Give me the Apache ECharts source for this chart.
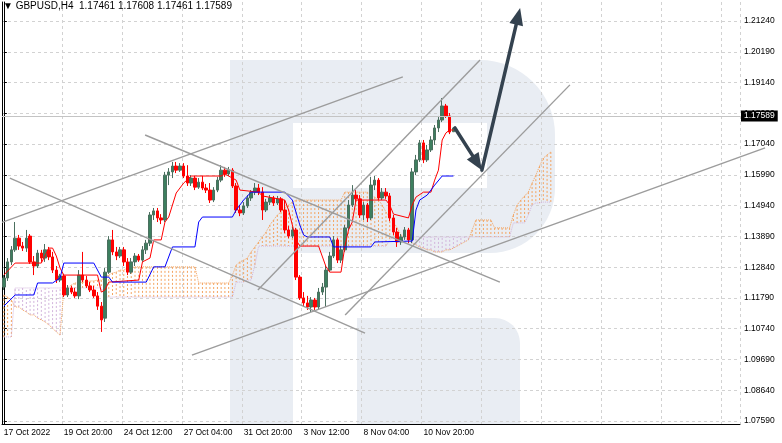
<!DOCTYPE html>
<html>
<head>
<meta charset="utf-8">
<title>GBPUSD,H4</title>
<script src="https://cdn.jsdelivr.net/npm/echarts@6/dist/echarts.min.js"></script>
<style>
  html, body { margin: 0; padding: 0; background: #fff; }
  #main { width: 782px; height: 443px; }
</style>
</head>
<body>
<div id="main"></div>
<script>
// candles: [open, close, low, high], one per H4 bar from 17 Oct 2022
var candles = [
  [1.1216,1.1247,1.1206,1.1257],[1.1247,1.1302,1.1237,1.1315],[1.1302,1.1343,1.1291,1.1356],[1.1343,1.1383,1.1336,1.1438],
  [1.1383,1.1356,1.1343,1.1394],[1.1356,1.1349,1.1339,1.1370],[1.1349,1.1383,1.1336,1.1411],[1.1390,1.1302,1.1295,1.1397],
  [1.1302,1.1288,1.1257,1.1322],[1.1288,1.1332,1.1281,1.1343],[1.1332,1.1315,1.1302,1.1343],[1.1315,1.1343,1.1302,1.1363],
  [1.1343,1.1319,1.1308,1.1353],[1.1319,1.1274,1.1264,1.1336],[1.1274,1.1240,1.1230,1.1288],[1.1240,1.1254,1.1233,1.1261],
  [1.1254,1.1189,1.1182,1.1261],[1.1189,1.1213,1.1182,1.1223],[1.1213,1.1199,1.1192,1.1220],[1.1199,1.1186,1.1179,1.1213],
  [1.1186,1.1257,1.1175,1.1274],[1.1257,1.1240,1.1233,1.1336],[1.1240,1.1220,1.1213,1.1254],[1.1220,1.1206,1.1199,1.1233],
  [1.1206,1.1186,1.1179,1.1220],[1.1186,1.1151,1.1138,1.1199],[1.1151,1.1104,1.1063,1.1165],[1.1110,1.1267,1.1097,1.1281],
  [1.1267,1.1377,1.1261,1.1390],[1.1377,1.1336,1.1325,1.1411],[1.1336,1.1322,1.1308,1.1353],[1.1322,1.1343,1.1315,1.1353],
  [1.1343,1.1302,1.1288,1.1353],[1.1302,1.1267,1.1257,1.1315],[1.1267,1.1302,1.1261,1.1315],[1.1302,1.1322,1.1288,1.1332],
  [1.1322,1.1308,1.1302,1.1329],[1.1308,1.1343,1.1302,1.1356],[1.1343,1.1366,1.1329,1.1377],[1.1366,1.1462,1.1356,1.1472],
  [1.1462,1.1476,1.1445,1.1486],[1.1476,1.1452,1.1438,1.1486],[1.1452,1.1445,1.1431,1.1465],[1.1445,1.1598,1.1438,1.1609],
  [1.1598,1.1609,1.1564,1.1622],[1.1609,1.1629,1.1588,1.1643],[1.1629,1.1615,1.1605,1.1643],[1.1615,1.1629,1.1609,1.1639],
  [1.1629,1.1595,1.1588,1.1639],[1.1595,1.1571,1.1561,1.1632],[1.1571,1.1588,1.1561,1.1598],[1.1588,1.1557,1.1547,1.1595],
  [1.1557,1.1574,1.1551,1.1588],[1.1574,1.1554,1.1547,1.1595],[1.1554,1.1547,1.1537,1.1568],[1.1547,1.1513,1.1503,1.1571],
  [1.1513,1.1547,1.1506,1.1557],[1.1547,1.1581,1.1540,1.1592],[1.1581,1.1615,1.1574,1.1632],[1.1615,1.1602,1.1592,1.1626],
  [1.1602,1.1615,1.1595,1.1626],[1.1615,1.1561,1.1554,1.1622],[1.1561,1.1479,1.1469,1.1571],[1.1479,1.1469,1.1458,1.1496],
  [1.1469,1.1493,1.1462,1.1506],[1.1493,1.1520,1.1486,1.1530],[1.1520,1.1540,1.1510,1.1547],[1.1540,1.1554,1.1530,1.1571],
  [1.1554,1.1540,1.1530,1.1568],[1.1540,1.1479,1.1445,1.1557],[1.1479,1.1506,1.1472,1.1517],[1.1506,1.1520,1.1496,1.1530],
  [1.1520,1.1503,1.1493,1.1527],[1.1503,1.1517,1.1496,1.1527],[1.1517,1.1479,1.1472,1.1523],[1.1479,1.1411,1.1400,1.1513],
  [1.1411,1.1390,1.1383,1.1424],[1.1390,1.1411,1.1383,1.1421],[1.1411,1.1250,1.1240,1.1418],[1.1250,1.1179,1.1172,1.1257],
  [1.1179,1.1162,1.1148,1.1199],[1.1162,1.1148,1.1138,1.1186],[1.1148,1.1172,1.1131,1.1182],[1.1172,1.1148,1.1138,1.1179],
  [1.1148,1.1199,1.1141,1.1213],[1.1199,1.1216,1.1189,1.1230],[1.1216,1.1274,1.1148,1.1288],[1.1274,1.1322,1.1267,1.1336],
  [1.1322,1.1377,1.1315,1.1390],[1.1377,1.1308,1.1298,1.1383],[1.1308,1.1343,1.1298,1.1356],[1.1343,1.1418,1.1336,1.1428],
  [1.1418,1.1496,1.1411,1.1513],[1.1496,1.1530,1.1489,1.1564],[1.1530,1.1517,1.1506,1.1547],[1.1517,1.1462,1.1452,1.1530],
  [1.1462,1.1496,1.1445,1.1506],[1.1496,1.1452,1.1438,1.1503],[1.1452,1.1564,1.1445,1.1592],[1.1564,1.1581,1.1547,1.1595],
  [1.1581,1.1520,1.1513,1.1588],[1.1520,1.1540,1.1513,1.1554],[1.1540,1.1527,1.1517,1.1554],[1.1527,1.1452,1.1441,1.1537],
  [1.1452,1.1404,1.1394,1.1462],[1.1404,1.1370,1.1353,1.1418],[1.1370,1.1387,1.1360,1.1397],[1.1387,1.1411,1.1377,1.1421],
  [1.1411,1.1377,1.1366,1.1418],[1.1377,1.1609,1.1366,1.1622],[1.1609,1.1650,1.1598,1.1667],[1.1650,1.1708,1.1643,1.1718],
  [1.1708,1.1650,1.1639,1.1718],[1.1650,1.1684,1.1643,1.1701],[1.1684,1.1718,1.1677,1.1731],[1.1718,1.1759,1.1701,1.1769],
  [1.1759,1.1786,1.1745,1.1800],[1.1786,1.1834,1.1779,1.1861],[1.1834,1.1800,1.1793,1.1841],[1.1800,1.1745,1.1738,1.1810],
  [1.17461,1.17589,1.17461,1.17608]
];

// Tenkan-sen (red) and Kijun-sen (blue): [bar, price] at each corner of the line
var tenkan = [
  [0,1.1257],[3,1.1298],[10,1.1298],[12,1.1349],[13,1.1349],[14,1.1322],[15,1.1281],[16,1.1257],[25,1.1257],
  [26,1.1199],[27,1.1206],[28,1.1233],[36,1.1240],[37,1.1302],[39,1.1315],[40,1.1377],[42,1.1377],[43,1.1438],
  [44,1.1455],[46,1.1537],[48,1.1571],[50,1.1595],[58,1.1595],[59,1.1602],[62,1.1581],[63,1.1547],[68,1.1540],
  [69,1.1527],[75,1.1513],[76,1.1479],[78,1.1377],[79,1.1356],[84,1.1356],[86,1.1285],[87,1.1267],[90,1.1267],
  [91,1.1353],[92,1.1411],[93,1.1438],[94,1.1513],[102,1.1513],[103,1.1496],[104,1.1465],[108,1.1452],[109,1.1496],
  [110,1.1523],[112,1.1540],[114,1.1540],[115,1.1581],[116,1.1615],[117,1.1718],[118,1.1742],[119,1.1752],[120,1.1752]
];
var kijun = [
  [0,1.1151],[3,1.1189],[8,1.1189],[9,1.1230],[13,1.1230],[15,1.1247],[16,1.1298],[24,1.1298],[26,1.1250],
  [28,1.1250],[29,1.1233],[38,1.1233],[40,1.1285],[43,1.1285],[45,1.1353],[51,1.1353],[52,1.1438],[53,1.1455],
  [61,1.1455],[62,1.1479],[64,1.1513],[66,1.1540],[75,1.1540],[77,1.1513],[79,1.1428],[80,1.1394],[81,1.1387],
  [87,1.1387],[88,1.1353],[98,1.1353],[99,1.1370],[109,1.1373],[110,1.1479],[111,1.1513],[113,1.1530],
  [115,1.1564],[117,1.1595],[120,1.1595]
];

// Senkou Span A / B per bar (already shifted 26 bars ahead)
var spanA = [
  1.1189,1.1182,1.1172,1.1148,1.1148,1.1138,1.1131,1.1121,1.1121,1.1110,
  1.1104,1.1097,1.1087,1.1076,1.1063,1.1052,1.1206,1.1213,1.1223,1.1230,
  1.1230,1.1233,1.1233,1.1237,1.1237,1.1240,1.1240,1.1250,1.1257,1.1264,
  1.1267,1.1274,1.1274,1.1281,1.1281,1.1285,1.1285,1.1285,1.1285,1.1285,
  1.1285,1.1285,1.1285,1.1285,1.1285,1.1285,1.1285,1.1285,1.1285,1.1285,
  1.1285,1.1285,1.1230,1.1230,1.1230,1.1230,1.1230,1.1230,1.1230,1.1230,
  1.1230,1.1257,1.1291,1.1302,1.1308,1.1315,1.1336,1.1353,1.1370,1.1387,
  1.1404,1.1428,1.1445,1.1462,1.1472,1.1486,1.1496,1.1506,1.1513,1.1513,
  1.1513,1.1513,1.1513,1.1513,1.1513,1.1513,1.1513,1.1513,1.1513,1.1513,
  1.1513,1.1540,1.1540,1.1540,1.1540,1.1540,1.1540,1.1540,1.1530,1.1523,
  1.1513,1.1496,1.1472,1.1455,1.1438,1.1418,1.1394,1.1383,1.1377,1.1366,
  1.1360,1.1353,1.1349,1.1343,1.1343,1.1336,1.1336,1.1336,1.1343,1.1343,
  1.1349,1.1356,1.1363,1.1370,1.1377,1.1411,1.1445,1.1445,1.1445,1.1445,
  1.1445,1.1418,1.1418,1.1418,1.1418,1.1418,1.1462,1.1496,1.1513,1.1527,
  1.1540,1.1571,1.1598,1.1629,1.1656,1.1667,1.1677
];
var spanB = [
  1.1046,1.1046,1.1046,1.1213,1.1213,1.1213,1.1213,1.1213,1.1213,1.1213,
  1.1213,1.1213,1.1213,1.1213,1.1213,1.1213,1.1213,1.1213,1.1213,1.1213,
  1.1213,1.1213,1.1213,1.1213,1.1213,1.1213,1.1213,1.1182,1.1182,1.1182,
  1.1182,1.1182,1.1182,1.1182,1.1182,1.1182,1.1182,1.1182,1.1182,1.1182,
  1.1182,1.1182,1.1182,1.1182,1.1182,1.1182,1.1182,1.1182,1.1182,1.1182,
  1.1182,1.1182,1.1182,1.1182,1.1182,1.1182,1.1182,1.1182,1.1182,1.1182,
  1.1182,1.1182,1.1233,1.1233,1.1233,1.1240,1.1240,1.1291,1.1356,1.1356,
  1.1356,1.1356,1.1356,1.1356,1.1356,1.1356,1.1356,1.1356,1.1356,1.1356,
  1.1356,1.1356,1.1356,1.1356,1.1356,1.1356,1.1356,1.1356,1.1356,1.1356,
  1.1356,1.1356,1.1356,1.1356,1.1356,1.1356,1.1356,1.1356,1.1356,1.1356,
  1.1356,1.1356,1.1356,1.1377,1.1387,1.1387,1.1387,1.1387,1.1387,1.1387,
  1.1387,1.1387,1.1387,1.1387,1.1387,1.1387,1.1387,1.1387,1.1387,1.1387,
  1.1387,1.1387,1.1387,1.1387,1.1387,1.1387,1.1387,1.1387,1.1387,1.1387,
  1.1387,1.1387,1.1387,1.1387,1.1387,1.1387,1.1435,1.1435,1.1435,1.1435,
  1.1462,1.1496,1.1503,1.1503,1.1506,1.1506,1.1506
];

var xTickLabels = ['17 Oct 2022', '19 Oct 20:00', '24 Oct 12:00', '27 Oct 04:00',
                   '31 Oct 20:00', '3 Nov 12:00', '8 Nov 04:00', '10 Nov 20:00'];
var yTicks = [1.07590, 1.08640, 1.09690, 1.10740, 1.11790, 1.12840, 1.13890,
              1.14940, 1.15990, 1.17040, 1.18090, 1.19140, 1.20190, 1.21240];
var lastPrice = 1.17589;

// drawn trend lines and forecast arrows: [bar1, price1, bar2, price2, isArrow]
var drawings = [
  [-0.5, 1.1437, 106.5, 1.1933, 0],
  [1.6, 1.1588, 96.4, 1.1059, 0],
  [37.7, 1.1735, 132.4, 1.1233, 0],
  [67.8, 1.1206, 127.1, 1.1991, 0],
  [91.1, 1.1121, 151.1, 1.1906, 0],
  [50.2, 1.0984, 203.2, 1.1691, 0],
  [120.4, 1.1759, 127.6, 1.1615, 1],
  [127.6, 1.1615, 137.8, 1.2168, 1]
];

var nBars = 197;   // bars that fit the plot, incl. empty future space
var cats = [];
for (var k = 0; k < nBars; k++) cats.push(String(k));

var font = 'Liberation Sans, Arial, sans-serif';
var yMin = 1.07488, yMax = 1.21888;
var wm = '#e9edf3';

var cloud = spanA.map(function (a, i) { return [i, a, spanB[i]]; });

var chart = echarts.init(document.getElementById('main'));
var option = {
  animation: false,
  backgroundColor: '#fff',
  title: {
    text: '\u25BC GBPUSD,H4  1.17461 1.17608 1.17461 1.17589',
    left: 3, top: 1, padding: 0,
    textStyle: { fontSize: 10, fontWeight: 'normal', color: '#000', fontFamily: font }
  },
  // big "R" logo in the background
  graphic: [
    { type: 'rect', z: -10, shape: { x: 230, y: 60, width: 325, height: 193, r: [0, 75, 65, 0] }, style: { fill: wm } },
    { type: 'rect', z: -10, shape: { x: 230, y: 60, width: 63, height: 364 }, style: { fill: wm } },
    { type: 'rect', z: -9, shape: { x: 293, y: 123, width: 194, height: 65 }, style: { fill: '#fff' } },
    { type: 'rect', z: -10, shape: { x: 357, y: 318, width: 163, height: 106, r: [0, 25, 0, 0] }, style: { fill: wm } }
  ],
  grid: { left: 2, right: 42, top: 2, bottom: 19 },
  xAxis: [
    {
      type: 'category', data: cats, boundaryGap: true,
      axisLine: { lineStyle: { color: '#000' } },
      axisTick: {
        alignWithLabel: true, length: 4, lineStyle: { color: '#000' },
        interval: function (i) { return i % 16 === 0 && i / 16 < xTickLabels.length; }
      },
      axisLabel: {
        interval: function (i) { return i % 16 === 0 && i / 16 < xTickLabels.length; },
        formatter: function (v, i) { return xTickLabels[i / 16] || ''; },
        align: 'left', margin: 4, fontSize: 8.5, color: '#000', fontFamily: font
      },
      splitLine: {
        show: true, interval: function (i) { return i % 16 === 0; },
        lineStyle: { color: '#d2d2d2', type: [3, 3] }
      }
    },
    { type: 'value', min: -0.5, max: nBars - 0.5, show: false }
  ],
  yAxis: [
    {
      type: 'value', position: 'right', min: yMin, max: yMax,
      axisLine: { show: true, lineStyle: { color: '#000' } },
      axisTick: { show: true, length: 3, customValues: yTicks, lineStyle: { color: '#000' } },
      axisLabel: {
        customValues: yTicks, margin: 4, fontSize: 8.5, color: '#000', fontFamily: font,
        formatter: function (v) { return v.toFixed(5); }
      },
      splitLine: { show: true, lineStyle: { color: '#d2d2d2', type: [3, 3] } }
    },
    {
      type: 'value', position: 'left', min: yMin, max: yMax,
      axisLine: { show: true, lineStyle: { color: '#000' } },
      axisTick: { show: false }, axisLabel: { show: false }, splitLine: { show: false }
    }
  ],
  series: [
    {
      type: 'custom', name: 'cloud', z: 1, silent: true,
      data: cloud, encode: { x: 0, y: [1, 2] },
      renderItem: function (params, api) {
        var a = api.value(1), b = api.value(2);
        var p1 = api.coord([api.value(0), a]);
        var p2 = api.coord([api.value(0), b]);
        return {
          type: 'line',
          shape: { x1: p1[0], y1: p1[1], x2: p2[0], y2: p2[1] },
          style: { stroke: a >= b ? '#f4a460' : '#d2b4dc', lineWidth: 1, lineDash: [2, 2] }
        };
      }
    },
    {
      type: 'line', name: 'Senkou A', data: spanA, z: 1, showSymbol: false, silent: true,
      lineStyle: { color: '#f4a460', width: 1, type: 'dotted' }
    },
    {
      type: 'line', name: 'Senkou B', data: spanB, z: 1, showSymbol: false, silent: true,
      lineStyle: { color: '#d2b4dc', width: 1, type: 'dotted' }
    },
    {
      type: 'candlestick', name: 'GBPUSD', data: candles, z: 2, barWidth: 3,
      itemStyle: { color: '#3d7f5f', color0: '#ff0000', borderColor: '#4b6f5f', borderColor0: '#ff0000', borderWidth: 1 },
      markLine: {
        silent: true, symbol: 'none',
        lineStyle: { color: '#c4c4c4', width: 1, type: 'solid' },
        label: {
          position: 'end', distance: 1, formatter: lastPrice.toFixed(5),
          backgroundColor: '#000', color: '#fff', padding: [1, 3, 1, 3],
          fontSize: 8.5, fontFamily: font
        },
        data: [{ yAxis: lastPrice }]
      }
    },
    {
      type: 'line', name: 'Tenkan-sen', data: tenkan, z: 3, showSymbol: false, silent: true,
      lineStyle: { color: '#ff0000', width: 1 }
    },
    {
      type: 'line', name: 'Kijun-sen', data: kijun, z: 3, showSymbol: false, silent: true,
      lineStyle: { color: '#0000ff', width: 1 }
    },
    {
      type: 'custom', name: 'drawings', xAxisIndex: 1, z: 5, silent: true, clip: false,
      data: drawings, encode: { x: [0, 2], y: [1, 3] },
      renderItem: function (params, api) {
        var p1 = api.coord([api.value(0), api.value(1)]);
        var p2 = api.coord([api.value(2), api.value(3)]);
        if (!api.value(4)) {
          return {
            type: 'line',
            shape: { x1: p1[0], y1: p1[1], x2: p2[0], y2: p2[1] },
            style: { stroke: '#9c9c9c', lineWidth: 1.4 }
          };
        }
        var dx = p2[0] - p1[0], dy = p2[1] - p1[1];
        var len = Math.sqrt(dx * dx + dy * dy), ux = dx / len, uy = dy / len;
        var hl = 17, hw = 7;
        var bx = p2[0] - ux * hl, by = p2[1] - uy * hl;
        return {
          type: 'group',
          children: [
            {
              type: 'line',
              shape: { x1: p1[0], y1: p1[1], x2: bx + ux * 3, y2: by + uy * 3 },
              style: { stroke: '#34424f', lineWidth: 3.5, lineCap: 'round' }
            },
            {
              type: 'polygon',
              shape: { points: [[p2[0], p2[1]], [bx - uy * hw, by + ux * hw], [bx + uy * hw, by - ux * hw]] },
              style: { fill: '#34424f' }
            }
          ]
        };
      }
    }
  ]
};
chart.setOption(option);
</script>
</body>
</html>
